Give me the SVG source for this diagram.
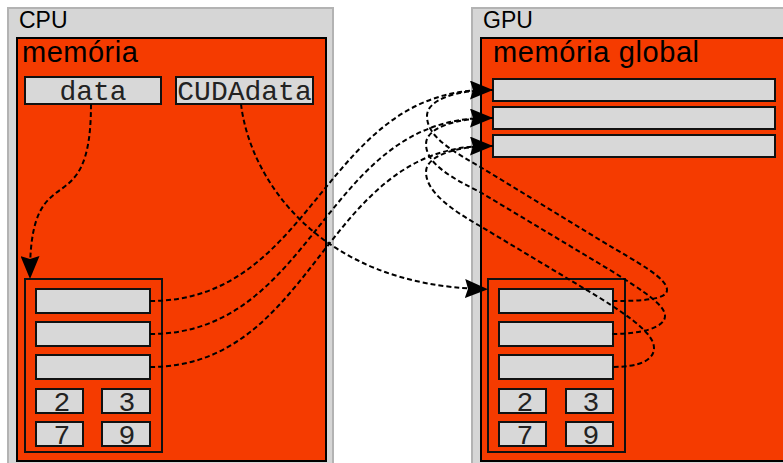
<svg xmlns="http://www.w3.org/2000/svg" width="783" height="463" viewBox="0 0 783 463">
<style>
.outer{fill:#d6d6d6;stroke:#b3b3b3;stroke-width:2}
.mem{fill:#f53b00;stroke:#000;stroke-width:2}
.cell{fill:#d8d8d8;stroke:#111;stroke-width:2}
.grp{fill:none;stroke:#111;stroke-width:2}
.lbl{font-family:"Liberation Sans",Arial,sans-serif;fill:#000}
.mono{font-family:"Liberation Mono","Courier New",monospace;font-size:28px;fill:#222;text-anchor:middle}
.conn{fill:none;stroke:#000;stroke-width:2;stroke-dasharray:5 3}
</style>
<defs>
<marker id="ah" markerUnits="userSpaceOnUse" markerWidth="24" markerHeight="19" viewBox="0 0 24 19" refX="17" refY="9.5" orient="auto">
<path d="M0,0 L23,9.5 L0,19 L3,9.5 Z" fill="#000"/>
</marker>
</defs>
<rect width="783" height="463" fill="#fff"/>
<g id="cpu">
<rect class="outer" x="8" y="8" width="325" height="470"/>
<text class="lbl" x="19" y="28" font-size="23">CPU</text>
</g>
<g id="gpu">
<rect class="outer" x="472" y="8" width="330" height="470"/>
<text class="lbl" x="483" y="28" font-size="23">GPU</text>
</g>
<g id="cpu-memoria">
<rect class="mem" x="17" y="38" width="309" height="423"/>
<text class="lbl" x="22" y="62" font-size="29" letter-spacing="0.5">memória</text>
</g>
<g id="gpu-memoria-global">
<rect class="mem" x="481" y="38" width="320" height="423"/>
<text class="lbl" x="493" y="62" font-size="29" letter-spacing="0.6">memória global</text>
</g>
<g id="data">
<rect class="cell" x="25" y="77" width="136" height="27"/>
<text class="mono" x="93" y="100">data</text>
</g>
<g id="cudadata">
<rect class="cell" x="176" y="77" width="137" height="27"/>
<text class="mono" x="244.5" y="100">CUDAdata</text>
</g>
<g id="cpu-struct">
<rect class="grp" x="25" y="279" width="137" height="173"/>
<rect class="cell" x="36" y="289" width="114" height="24"/>
<rect class="cell" x="36" y="322" width="114" height="24"/>
<rect class="cell" x="36" y="355" width="114" height="24"/>
<rect class="cell" x="36" y="389" width="47" height="24"/>
<rect class="cell" x="102" y="389" width="48" height="24"/>
<rect class="cell" x="36" y="422" width="47" height="24"/>
<rect class="cell" x="102" y="422" width="48" height="24"/>
<text class="mono" x="62" y="411">2</text>
<text class="mono" x="127" y="411">3</text>
<text class="mono" x="62" y="444">7</text>
<text class="mono" x="127" y="444">9</text>
</g>
<g id="gpu-rows">
<rect class="cell" x="493" y="79" width="282" height="22"/>
<rect class="cell" x="493" y="107" width="282" height="22"/>
<rect class="cell" x="493" y="135" width="282" height="22"/>
</g>
<g id="gpu-struct">
<rect class="grp" x="488" y="279" width="137" height="173"/>
<rect class="cell" x="499" y="289" width="114" height="24"/>
<rect class="cell" x="499" y="322" width="114" height="24"/>
<rect class="cell" x="499" y="355" width="114" height="24"/>
<rect class="cell" x="499" y="389" width="47" height="24"/>
<rect class="cell" x="566" y="389" width="47" height="24"/>
<rect class="cell" x="499" y="422" width="47" height="24"/>
<rect class="cell" x="566" y="422" width="47" height="24"/>
<text class="mono" x="525" y="411">2</text>
<text class="mono" x="591" y="411">3</text>
<text class="mono" x="525" y="444">7</text>
<text class="mono" x="591" y="444">9</text>
</g>
<g id="connectors">
<path class="conn" d="M493,90 C455,90 427,100 427,116 C427,138 455,152 482,168 L600,240 C640,264 667,278 667,290 C667,300 640,301 612,301"/>
<path class="conn" d="M493,118 C455,118 426,128 426,144 C426,164 452,178 480,192 L610,270 C645,292 665,305 665,316 C665,328 640,334 612,334"/>
<path class="conn" d="M493,146 C455,146 426,156 426,172 C426,192 452,210 480,226 L600,298 C635,320 654,335 654,348 C654,360 640,367 612,367"/>
<path class="conn" marker-end="url(#ah)" d="M91,104 C91,230 30,150 30,273"/>
<path class="conn" marker-end="url(#ah)" d="M241,104 C250,180 320,285 482,289"/>
<path class="conn" marker-end="url(#ah)" d="M150,301 C316,301 323,90 487,90"/>
<path class="conn" marker-end="url(#ah)" d="M150,334 C316,334 323,118 487,118"/>
<path class="conn" marker-end="url(#ah)" d="M150,367 C316,367 323,146 487,146"/>
</g>
</svg>
